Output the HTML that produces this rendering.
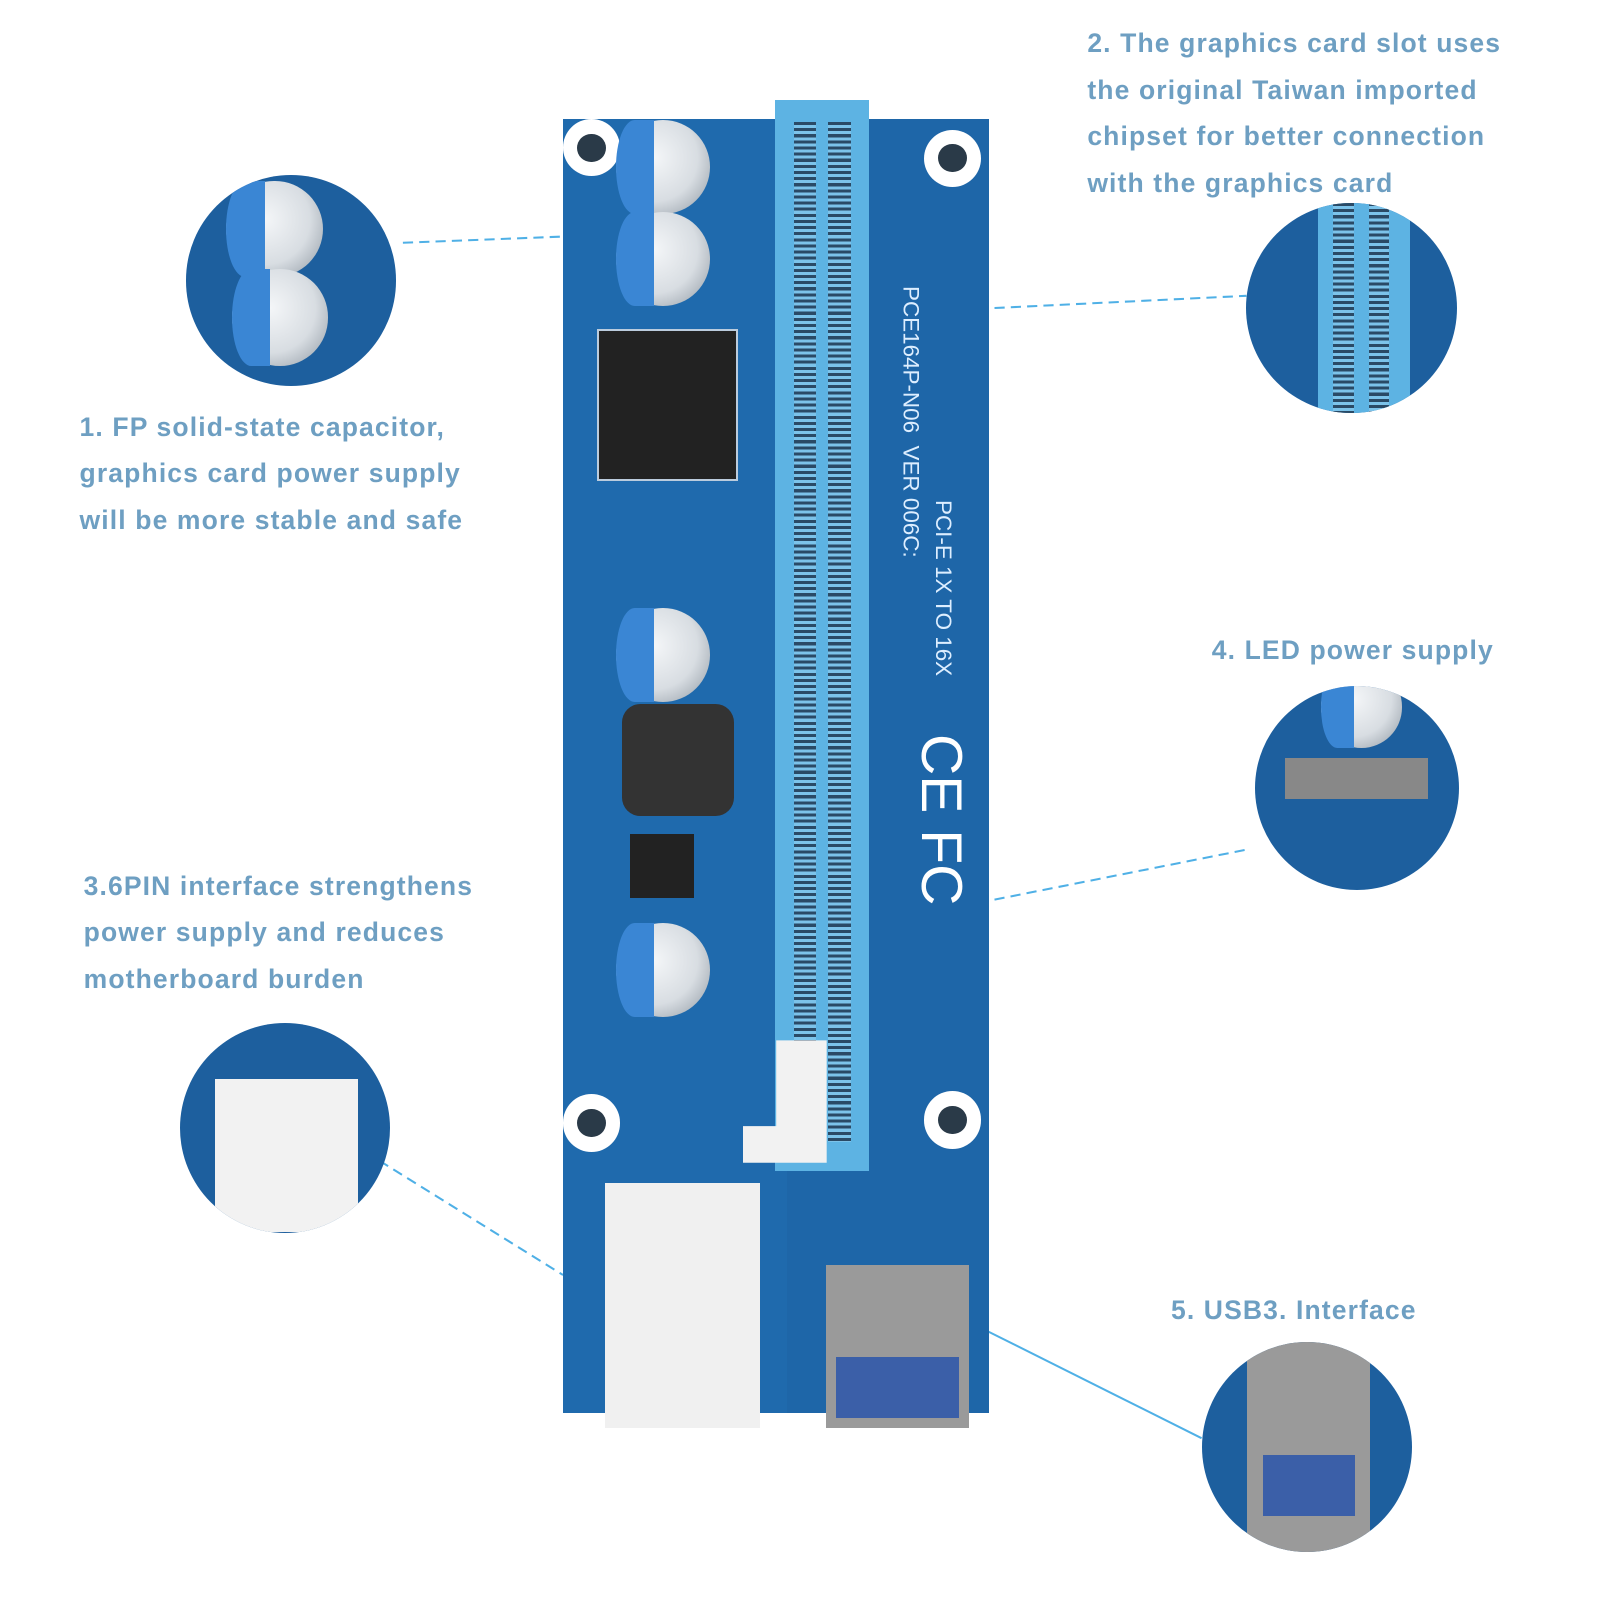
<!DOCTYPE html>
<html><head><meta charset="utf-8"><style>
html,body{margin:0;padding:0}
body{width:1600px;height:1600px;background:#fff;position:relative;overflow:hidden;font-family:"Liberation Sans","DejaVu Sans",sans-serif}
#w{position:absolute;left:0;top:0;width:1570px;height:1570px;zoom:1.02}
.t{position:absolute;color:#6e9fc2;font-weight:bold;font-size:26px;line-height:45.5px;letter-spacing:1.1px}
.c{position:absolute;border-radius:50%;overflow:hidden;background:#1d5f9e}
.a{position:absolute}
.cap{position:absolute;border-radius:50%;background:radial-gradient(circle at 40% 40%,#f4f6f8 0,#d8dde2 55%,#8a949e 100%);}
.cap:before{content:"";position:absolute;left:0;top:0;width:40%;height:100%;background:#3a86d4;border-radius:50% 0 0 50%}
.hole{position:absolute;width:56px;height:56px;border-radius:50%;background:#fff}
.hole:after{content:"";position:absolute;left:14px;top:14px;width:28px;height:28px;border-radius:50%;background:#2a3a48}
</style></head><body><div id="w">
<svg class="a" style="left:0;top:0" width="1570" height="1570">
<g stroke="#4fb0e6" stroke-width="2" stroke-dasharray="10,6" fill="none">
<line x1="395" y1="238" x2="550" y2="232"/>
<line x1="975" y1="302" x2="1222" y2="290"/>
<line x1="975" y1="882" x2="1222" y2="833"/>
<line x1="372" y1="1138" x2="552" y2="1250"/>
</g>
<line x1="968" y1="1305" x2="1178" y2="1410" stroke="#4fb0e6" stroke-width="2"/>
</svg>
<div class="a" style="left:552px;top:117px;width:418px;height:1268px;background:#1e66a8"></div>
<div class="a" style="left:552px;top:117px;width:220px;height:1268px;background:#1f6aad"></div>
<div class="a" style="left:760px;top:98px;width:92px;height:1050px;background:#5db3e3"></div>
<div class="a" style="left:778px;top:120px;width:22px;height:1000px;background:repeating-linear-gradient(#2a4a66 0 3px,#7cc3ea 3px 6px)"></div>
<div class="a" style="left:812px;top:120px;width:22px;height:1000px;background:repeating-linear-gradient(#2a4a66 0 3px,#7cc3ea 3px 6px)"></div>
<div class="a" style="left:728px;top:1020px;width:110px;height:120px;background:#f2f2f2;clip-path:polygon(30% 0,75% 0,75% 100%,0 100%,0 70%,30% 70%)"></div>
<div class="hole" style="left:552px;top:117px"></div>
<div class="hole" style="left:906px;top:127px"></div>
<div class="hole" style="left:552px;top:1073px"></div>
<div class="hole" style="left:906px;top:1070px"></div>
<div class="cap" style="left:604px;top:118px;width:92px;height:92px"></div>
<div class="cap" style="left:604px;top:208px;width:92px;height:92px"></div>
<div class="cap" style="left:604px;top:596px;width:92px;height:92px"></div>
<div class="cap" style="left:604px;top:905px;width:92px;height:92px"></div>
<div class="a" style="left:585px;top:323px;width:135px;height:145px;border:2px solid #bcd;background:#222"></div>
<div class="a" style="left:610px;top:690px;width:110px;height:110px;border-radius:18px;background:#333"></div>
<div class="a" style="left:618px;top:818px;width:62px;height:62px;background:#222"></div>
<div class="a" style="left:593px;top:1160px;width:152px;height:240px;background:#f0f0f0"></div>
<div class="a" style="left:810px;top:1240px;width:140px;height:160px;background:#9a9a9a"></div>
<div class="a" style="left:820px;top:1330px;width:120px;height:60px;background:#3b5fa8"></div>
<div class="a" style="left:880px;top:280px;color:#ddeeff;font-size:22px;writing-mode:vertical-rl">PCE164P-N06 &nbsp;VER 006C:</div>
<div class="a" style="left:912px;top:490px;color:#ddeeff;font-size:22px;writing-mode:vertical-rl">PCI-E 1X TO 16X</div>
<div class="a" style="left:890px;top:720px;color:#fff;font-size:56px;writing-mode:vertical-rl">CE FC</div>
<div class="c" style="left:182px;top:172px;width:206px;height:206px"><div class="cap" style="left:40px;top:5px;width:95px;height:95px"></div><div class="cap" style="left:45px;top:92px;width:95px;height:95px"></div></div>
<div class="c" style="left:1222px;top:199px;width:206px;height:206px"><div class="a" style="left:70px;top:0;width:90px;height:206px;background:#5db3e3"></div><div class="a" style="left:85px;top:0;width:20px;height:206px;background:repeating-linear-gradient(#2a4a66 0 3px,#7cc3ea 3px 6px)"></div><div class="a" style="left:120px;top:0;width:20px;height:206px;background:repeating-linear-gradient(#2a4a66 0 3px,#7cc3ea 3px 6px)"></div></div>
<div class="c" style="left:1230px;top:673px;width:200px;height:200px"><div class="cap" style="left:65px;top:-20px;width:80px;height:80px"></div><div class="a" style="left:30px;top:70px;width:140px;height:40px;background:#888"></div></div>
<div class="c" style="left:176px;top:1003px;width:206px;height:206px"><div class="a" style="left:35px;top:55px;width:140px;height:150px;background:#f2f2f2"></div></div>
<div class="c" style="left:1178px;top:1316px;width:206px;height:206px"><div class="a" style="left:45px;top:0;width:120px;height:206px;background:#9a9a9a"></div><div class="a" style="left:60px;top:110px;width:90px;height:60px;background:#3b5fa8"></div></div>
<div class="t" style="left:1066px;top:20px">2. The graphics card slot uses<br>the original Taiwan imported<br>chipset for better connection<br>with the graphics card</div>
<div class="t" style="left:78px;top:396px">1. FP solid-state capacitor,<br>graphics card power supply<br>will be more stable and safe</div>
<div class="t" style="left:1188px;top:615px">4. LED power supply</div>
<div class="t" style="left:82px;top:846px">3.6PIN interface strengthens<br>power supply and reduces<br>motherboard burden</div>
<div class="t" style="left:1148px;top:1262px">5. USB3. Interface</div>
</div></body></html>
